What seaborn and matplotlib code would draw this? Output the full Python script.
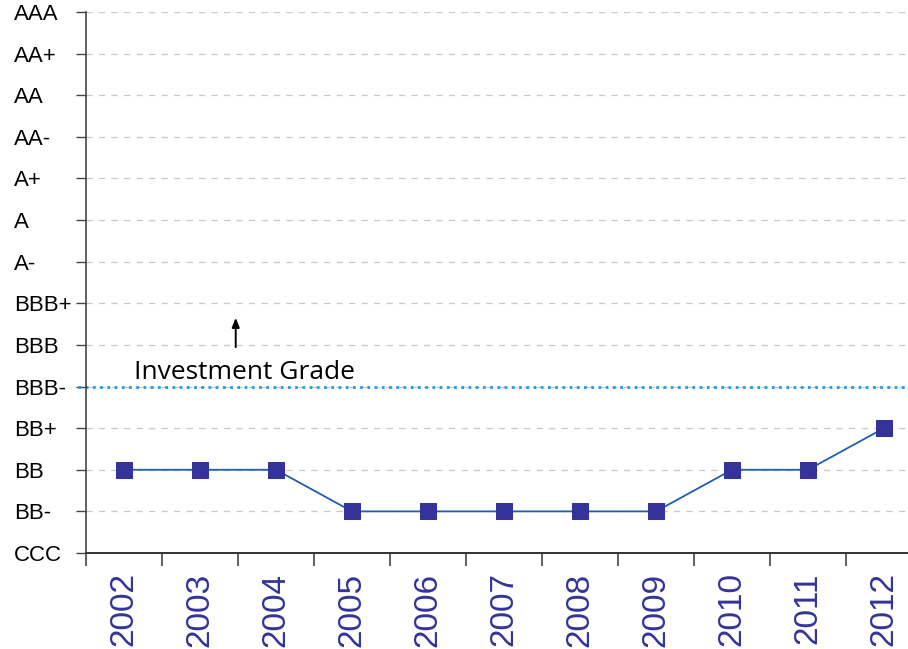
import numpy as np
import pandas as pd
import matplotlib
matplotlib.use("Agg")
import matplotlib.pyplot as plt
import seaborn as sns

sns.set_style("white")
plt.rcParams['font.family'] = ['Liberation Sans', 'DejaVu Sans']

# Rating scale (bottom to top) and yearly ratings
rating_scale = ["CCC", "BB-", "BB", "BB+", "BBB-", "BBB", "BBB+",
                "A-", "A", "A+", "AA-", "AA", "AA+", "AAA"]
years = [2002, 2003, 2004, 2005, 2006, 2007, 2008, 2009, 2010, 2011, 2012]
ratings = ["BB", "BB", "BB", "BB-", "BB-", "BB-", "BB-", "BB-", "BB", "BB", "BB+"]
investment_grade = "BBB-"

df = pd.DataFrame({"year": years,
                   "level": [rating_scale.index(r) for r in ratings]})

fig = plt.figure(figsize=(9.08, 6.49), dpi=100)
ax = fig.add_axes([86/908, 1 - 553/649, 1 - 86/908, (553 - 12)/649])

# dashed gridlines at each rating level
for lv in range(1, len(rating_scale)):
    ax.axhline(lv, color="#c8c8c8", lw=0.9, ls=(0, (5, 5)), zorder=0)

# investment grade threshold
ig = rating_scale.index(investment_grade)
ax.axhline(ig, xmin=-0.01, xmax=1, color="#1a9ee0", lw=2, ls=(0, (1, 1.6)),
           clip_on=False, zorder=1)

sns.lineplot(data=df, x="year", y="level", ax=ax, color="#1f5fb0", lw=1.3,
             marker="s", markersize=11, markerfacecolor="#333399",
             markeredgecolor="#333399", zorder=3)

ax.set_yticks(range(len(rating_scale)))
ax.set_yticklabels(rating_scale, fontsize=16, color="black")
for lab in ax.get_yticklabels():
    lab.set_horizontalalignment("left")
ax.set_xticks(years)
ax.set_xticklabels([str(y) for y in years], rotation=90, fontsize=24,
                   color="#333399")
ax.set_xticks([y - 0.5 for y in years] + [years[-1] + 0.5], minor=True)
ax.set_ylim(0, len(rating_scale) - 1)
ax.set_xlim(years[0] - 0.5, years[0] - 0.5 + (908 - 86) / 76)
ax.tick_params(axis="x", which="major", length=0, pad=14)
ax.tick_params(axis="x", which="minor", length=9, width=1.2, color="#444444",
               direction="out", bottom=True)
ax.tick_params(axis="y", length=7, width=1, color="#444444", direction="out",
               left=True, pad=(86 - 17 - 7) * 0.72)
ax.set_xlabel("")
ax.set_ylabel("")

for s in ["top", "right"]:
    ax.spines[s].set_visible(False)
ax.spines["left"].set_color("#444444")
ax.spines["bottom"].set_color("#333333")
ax.spines["left"].set_linewidth(1.2)
ax.spines["bottom"].set_linewidth(1.4)

ax.annotate("", xy=(2003.47, 5.72), xytext=(2003.47, 4.88),
            arrowprops=dict(arrowstyle="-|>,head_length=0.55,head_width=0.22",
                            color="black", lw=1.4))
ax.text(2002.13, 4.18, "Investment Grade", fontsize=19,
        family=["Open Sans", "DejaVu Sans"], color="black", va="baseline")

fig.savefig("out.png", dpi=100)
